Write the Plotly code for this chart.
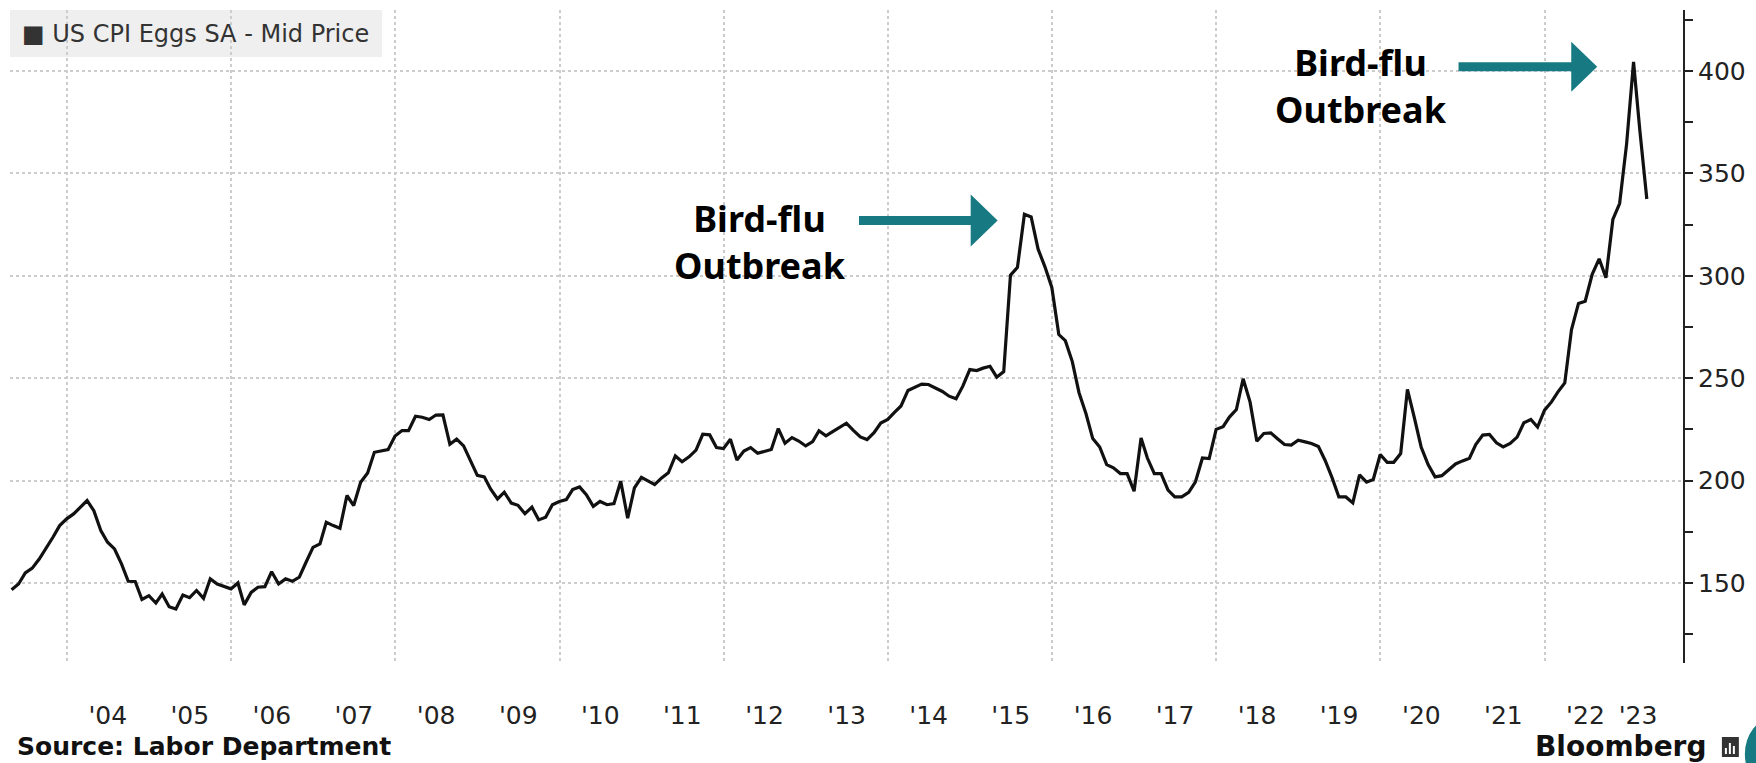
import calendar
import plotly.graph_objects as go

# ---------------- data ----------------
start_year, start_month = 2003, 4   # first monthly observation: Apr 2003

eggs_2003_2008 = [146.7, 149.5, 154.9, 157.2, 161.7, 166.6, 172.3, 178.0, 181.3, 183.7,
                  187.0, 190.2, 185.3, 175.6, 169.9, 166.6, 159.3, 150.8, 150.7, 141.9,
                  143.8, 140.2, 144.6, 138.4, 137.3, 144.1, 142.8, 146.3, 142.5, 152.0,
                  149.5, 148.4, 147.1, 150.0, 139.3, 145.4, 147.9, 148.2, 155.5, 149.5,
                  152.0, 150.8, 152.8, 160.1, 167.4, 169.1, 179.6, 178.0, 176.7, 192.7,
                  187.8, 199.2, 203.7, 213.8, 214.3, 215.1, 221.7, 224.4, 224.4, 231.4,
                  230.9, 229.8, 232.0]
eggs_2008_2013 = [232.1, 217.7, 220.2, 216.9, 209.5, 202.5, 201.8, 195.9, 191.0, 194.3,
                  189.0, 187.9, 183.8, 187.0, 180.8, 182.1, 188.2, 189.8, 190.7, 195.6,
                  196.9, 193.1, 187.4, 189.8, 188.2, 188.7, 199.7, 181.6, 196.4, 201.6,
                  199.7, 198.0, 201.3, 203.8, 212.0, 209.2, 211.6, 214.9, 222.6, 222.3,
                  216.1, 215.6, 220.2, 210.0, 214.4, 216.1, 213.3, 214.1, 215.2, 225.4,
                  218.2, 221.0, 219.3, 216.9, 219.0, 224.3, 221.8, 223.9, 225.9, 228.0,
                  224.5]
eggs_2013_2018 = [221.3, 220.0, 223.4, 228.1, 229.9, 233.4, 236.4, 244.0, 245.5, 247.1,
                  246.9, 245.3, 243.5, 241.2, 239.9, 246.1, 254.2, 253.7, 254.9, 255.8,
                  250.5, 253.2, 300.3, 304.1, 330.0, 328.7, 313.0, 304.5, 294.3, 271.3,
                  268.3, 258.1, 242.9, 232.6, 220.5, 216.4, 207.8, 206.2, 203.4, 203.4,
                  194.8, 220.8, 211.0, 203.4, 203.4, 195.3, 192.0, 192.0, 194.2, 199.4,
                  211.0, 210.7, 225.0, 226.3, 231.0, 234.7, 249.7, 238.3, 219.2]
eggs_2018_2023 = [223.0, 223.3, 220.4, 217.6, 217.3, 219.7, 218.9, 218.1, 216.6, 209.8,
                  201.3, 192.0, 192.0, 189.1, 202.8, 199.2, 200.5, 212.7, 208.9, 208.9,
                  213.2, 244.5, 230.6, 216.4, 207.8, 201.8, 202.4, 205.4, 208.1, 209.6,
                  210.9, 217.6, 222.2, 222.5, 218.4, 216.4, 218.1, 221.2, 228.2, 229.8,
                  226.1, 234.4, 238.4, 243.2, 247.7, 273.7, 286.5, 287.6, 300.7, 308.3,
                  299.0, 327.5, 335.3, 364.3, 404.4, 371.0, 337.5]

x_tick_years = list(range(2004, 2024))
x_tick_labels = ["'%02d" % (y % 100) for y in x_tick_years]
y_tick_values = [150, 200, 250, 300, 350, 400]
y_minor_values = [125, 175, 225, 275, 325, 375, 425]
grid_years = list(range(2004, 2024, 2))

series_name = "US CPI Eggs SA - Mid Price"
annotation_text = "Bird-flu<br>Outbreak"
source_text = "Source: Labor Department"
brand_text = "Bloomberg"

# ---------------- build ----------------
values = eggs_2003_2008 + eggs_2008_2013 + eggs_2013_2018 + eggs_2018_2023
dates = []
y, m = start_year, start_month
for _ in values:
    dates.append("%04d-%02d-%02d" % (y, m, calendar.monthrange(y, m)[1]))
    m += 1
    if m > 12:
        m = 1
        y += 1

tickvals = ["%d-07-01" % yy for yy in x_tick_years[:-1]] + ["2023-02-20"]
gridvals = ["%d-01-01" % yy for yy in grid_years]

# plot-area geometry in pixels (for decorations)
W, H = 1756, 763
L, R, T, B = 10, 69, 10, 100
PW, PH = W - L - R, H - T - B


def px(xp):
    return (xp - L) / PW


def py(yp):
    return (H - B - yp) / PH


TEAL = "#177a82"
GRID = "#cccccc"
INK = "#222222"

fig = go.Figure()
fig.add_trace(go.Scatter(x=dates, y=values, mode="lines",
                         line=dict(color="#111111", width=3.2),
                         name=series_name, showlegend=False, hoverinfo="skip"))

shapes = []
# legend box
shapes.append(dict(type="rect", xref="paper", yref="paper", layer="below",
                   x0=px(10), x1=px(383), y0=py(57), y1=py(10),
                   fillcolor="#efefef", line=dict(width=0)))
# arrows
for (sx0, sx1, sy, hx, hx2, hh) in [(861, 976, 220.5, 973, 1000, 26),
                                    (1462, 1577, 66.7, 1575, 1601, 25)]:
    shapes.append(dict(type="rect", xref="paper", yref="paper",
                       x0=px(sx0), x1=px(sx1), y0=py(sy + 4.5), y1=py(sy - 4.5),
                       fillcolor=TEAL, line=dict(width=0)))
    shapes.append(dict(type="path", xref="paper", yref="paper",
                       path="M %f,%f L %f,%f L %f,%f Z" % (px(hx), py(sy - hh), px(hx), py(sy + hh),
                                                           px(hx2), py(sy)),
                       fillcolor=TEAL, line=dict(width=0)))
# bloomberg icon
shapes.append(dict(type="rect", xref="paper", yref="paper",
                   x0=px(1726), x1=px(1743), y0=py(757), y1=py(737),
                   fillcolor="#333333", line=dict(width=0)))
for bx0, bx1, bt in [(1729, 1731, 748), (1733, 1735, 743), (1737, 1739, 746)]:
    shapes.append(dict(type="rect", xref="paper", yref="paper",
                       x0=px(bx0), x1=px(bx1), y0=py(754), y1=py(bt),
                       fillcolor="white", line=dict(width=0)))
shapes.append(dict(type="circle", xref="paper", yref="paper",
                   x0=px(1749), x1=px(1807), y0=py(790), y1=py(718),
                   fillcolor=TEAL, line=dict(width=0)))

annotations = [
    dict(xref="paper", yref="paper", x=px(20), y=py(34), xanchor="left", yanchor="middle",
         text="■ " + series_name, showarrow=False,
         font=dict(family="DejaVu Sans", size=24, color="#333333")),
    dict(xref="paper", yref="paper", x=px(762), y=py(242), xanchor="center", yanchor="middle",
         text="<b>" + annotation_text + "</b>", showarrow=False, align="center",
         font=dict(family="Noto Sans", size=36, color="#000000")),
    dict(xref="paper", yref="paper", x=px(1364), y=py(86), xanchor="center", yanchor="middle",
         text="<b>" + annotation_text + "</b>", showarrow=False, align="center",
         font=dict(family="Noto Sans", size=36, color="#000000")),
    dict(xref="paper", yref="paper", x=px(15), y=py(746), xanchor="left", yanchor="middle",
         text="<b>" + source_text + "</b>", showarrow=False,
         font=dict(family="DejaVu Sans", size=25, color="#111111")),
    dict(xref="paper", yref="paper", x=px(1712), y=py(746), xanchor="right", yanchor="middle",
         text="<b>" + brand_text + "</b>", showarrow=False,
         font=dict(family="DejaVu Sans", size=28, color="#111111")),
]

fig.update_layout(
    width=W, height=H,
    margin=dict(l=L, r=R, t=T, b=B),
    paper_bgcolor="white", plot_bgcolor="white",
    shapes=shapes, annotations=annotations,
    showlegend=False, hovermode=False,
    xaxis=dict(type="date", range=["2003-04-23", "2023-09-08"],
               tickmode="array", tickvals=tickvals, ticktext=x_tick_labels,
               showgrid=False, zeroline=False, showline=False, ticks="",
               ticklabelstandoff=35,
               tickfont=dict(family="DejaVu Sans", size=25, color=INK),
               minor=dict(tickmode="array", tickvals=gridvals, showgrid=True,
                          griddash="dot", gridcolor=GRID, gridwidth=1.5, ticks="")),
    yaxis=dict(side="right", range=[110.9, 429.8],
               tickmode="array", tickvals=y_tick_values,
               showgrid=True, griddash="dot", gridcolor=GRID, gridwidth=1.5,
               zeroline=False, showline=True, linecolor=INK, linewidth=2,
               ticks="outside", ticklen=8, tickwidth=2, tickcolor=INK,
               tickfont=dict(family="DejaVu Sans", size=25, color=INK),
               minor=dict(tickmode="array", tickvals=y_minor_values, ticks="outside",
                          ticklen=8, tickwidth=2, tickcolor=INK, showgrid=False)),
)

fig.write_html("out.html", config={"displayModeBar": False},
               post_script="document.body.style.margin='0';"
                           "document.body.style.overflow='hidden';")
